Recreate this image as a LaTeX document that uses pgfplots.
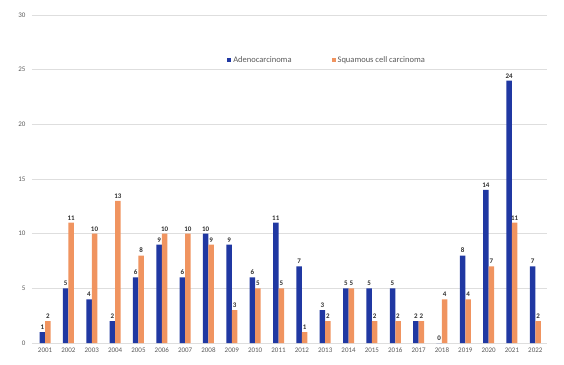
\documentclass[border=0pt]{standalone}
\usepackage{pgfplots}
\pgfplotsset{compat=1.18}
\usepackage{fontspec}
\setmainfont{Carlito}
\definecolor{adeno}{RGB}{32,56,162}
\definecolor{squam}{RGB}{240,148,96}
\definecolor{gridc}{RGB}{222,222,222}
\definecolor{tickc}{RGB}{90,90,90}
\definecolor{labc}{RGB}{50,50,50}
\pgfplotstableread{
x ade squ
0 1 2
1 5 11
2 4 10
3 2 13
4 6 8
5 9 10
6 6 10
7 10 9
8 9 3
9 6 5
10 11 5
11 7 1
12 3 2
13 5 5
14 5 2
15 5 2
16 2 2
17 0 4
18 8 4
19 14 7
20 24 11
21 7 2
}\datatable
\begin{document}
\begin{tikzpicture}
\path[use as bounding box] (0,0) rectangle (564pt,364pt);
\begin{axis}[
  at={(32pt,21pt)}, anchor=south west,
  scale only axis, width=515pt, height=328pt,
  ybar=0pt, bar width=5.5pt,
  xmin=-0.56, xmax=21.5, ymin=0, ymax=30,
  xtick=data,
  xticklabels={2001,2002,2003,2004,2005,2006,2007,2008,2009,2010,2011,2012,2013,2014,2015,2016,2017,2018,2019,2020,2021,2022},
  ytick={0,5,...,30},
  ymajorgrids, grid style={gridc, line width=0.8pt},
  axis line style={draw=none},
  major tick length=0pt,
  tick label style={font=\fontsize{7}{8}\selectfont, text=tickc},
  /pgf/number format/assume math mode=true,
  yticklabel style={xshift=-3pt},
  xticklabel style={yshift=-1pt},
  nodes near coords,
  every node near coord/.append style={font=\fontsize{7}{8}\selectfont\bfseries, text=labc, yshift=-1pt},
  legend columns=2,
  legend style={at={(0.573,0.863)}, anchor=center, draw=none, fill=none,
    font=\fontsize{8.5}{9}\selectfont, text=tickc, /tikz/every even column/.append style={column sep=38pt}},
  legend image code/.code={\fill[#1] (0pt,-2pt) rectangle (4pt,2pt);},
]
\addplot[fill=adeno, draw=none] table[x=x, y=ade] {\datatable};
\addplot[fill=squam, draw=none] table[x=x, y=squ] {\datatable};
\legend{Adenocarcinoma, Squamous cell carcinoma}
\end{axis}
\end{tikzpicture}
\end{document}
